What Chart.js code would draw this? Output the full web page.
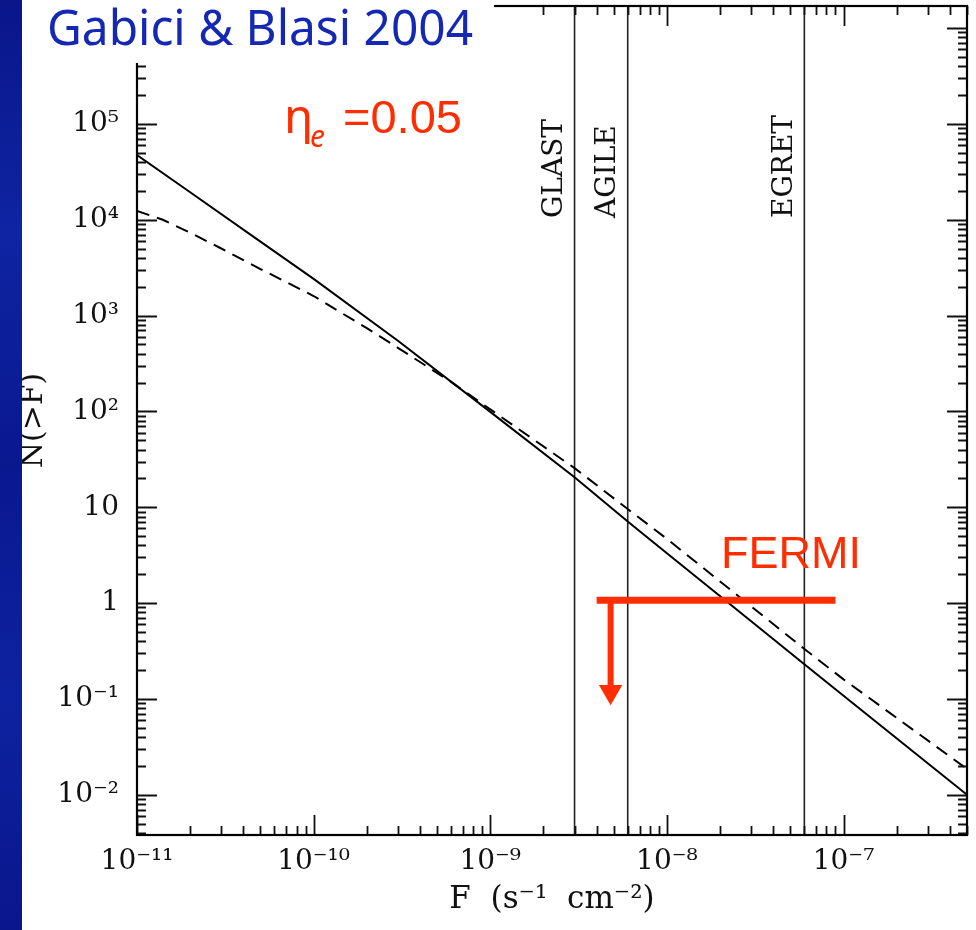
<!DOCTYPE html>
<html><head><meta charset="utf-8">
<script src="https://cdn.jsdelivr.net/npm/chart.js@4.4.1/dist/chart.umd.min.js"></script>
<style>
html,body{margin:0;padding:0;background:#fff;}
#wrap{position:relative;width:976px;height:930px;overflow:hidden;background:#fff;}
#strip{position:absolute;left:0;top:0;width:22px;height:930px;background:linear-gradient(180deg,#0a168a 0%,#0e24a2 25%,#0a1890 50%,#0d22a0 75%,#0a168c 100%);}
canvas{position:absolute;left:0;top:0;}
</style></head>
<body><div id="wrap"><canvas id="c" width="976" height="930" style="width:976px;height:930px"></canvas><div id="strip"></div></div>
<script>
// ---- data ----
const solidF = [1e-11, 2e-11, 5e-11, 1e-10, 3e-10, 1e-9, 3e-9, 6e-9, 1e-8, 3e-8, 6e-8, 1e-7, 5e-7];
const solidN = [47400, 19360, 5920, 2415, 547, 98.9, 20.6, 7.10, 3.31, 0.647, 0.230, 0.108, 0.0100];
const dashedF = [1e-11, 1.4e-11, 2e-11, 3e-11, 5e-11, 1e-10, 2e-10, 3e-10, 6e-10, 1e-9, 3e-9, 6e-9, 1e-8, 6e-8, 1e-7, 5e-7];
const dashedN = [12360, 10000, 7330, 5010, 3060, 1600, 738, 461, 203, 105, 25.6, 9.57, 4.68, 0.332, 0.160, 0.0186];
const instrumentNames = ['GLAST', 'AGILE', 'EGRET'];
const instrumentF = [3e-9, 6e-9, 6e-8];
const fermiF = [4e-9, 9e-8];
const fermiN = 1.07;
const arrowF = 4.8e-9;
const arrowN = [1.07, 0.14];
const arrowHeadN = 0.119;
const xRange = [1e-11, 5e-7];
const yRange = [0.0038, 1.7e6];
const xMajorTicks = [1e-11, 1e-10, 1e-9, 1e-8, 1e-7];
const xTickLabels = ['10⁻¹¹', '10⁻¹⁰', '10⁻⁹', '10⁻⁸', '10⁻⁷'];
const yMajorTicks = [1e-2, 1e-1, 1, 10, 1e2, 1e3, 1e4, 1e5, 1e6];
const yTickLabels = ['10⁻²', '10⁻¹', '1', '10', '10²', '10³', '10⁴', '10⁵', ''];

const RED = '#ff2d00';
const BLUE = '#1428b4';
const SERIF = "'DejaVu Serif', 'Liberation Serif', serif";

function buildTicks(majors, lo, hi) {
  const out = [];
  const kLo = Math.floor(Math.log10(lo)), kHi = Math.ceil(Math.log10(hi));
  for (let k = kLo; k <= kHi; k++) {
    for (let m = 1; m <= 9; m++) {
      const v = m * Math.pow(10, k);
      if (v >= lo * 0.999 && v <= hi * 1.001) out.push({ value: v, major: m === 1 });
    }
  }
  return out;
}
function labelFor(v, majors, labels) {
  for (let i = 0; i < majors.length; i++) {
    if (Math.abs(Math.log10(v) - Math.log10(majors[i])) < 1e-6) return labels[i];
  }
  return '';
}
const pts = (fs, ns) => fs.map((f, i) => ({ x: f, y: ns[i] }));

const datasets = [];
datasets.push({ data: [{ x: fermiF[0], y: fermiN }, { x: fermiF[1], y: fermiN }], borderColor: RED, borderWidth: 7, pointRadius: 0, order: 0 });
datasets.push({ data: [{ x: arrowF, y: arrowN[0] }, { x: arrowF, y: arrowN[1] }], borderColor: RED, borderWidth: 6, pointRadius: 0, order: 0 });
datasets.push({ data: [{ x: arrowF, y: arrowHeadN }], showLine: false, pointStyle: 'triangle', rotation: 180, pointRadius: 13.5, backgroundColor: RED, borderColor: RED, borderWidth: 0, order: 0 });
datasets.push({ data: pts(solidF, solidN), borderColor: '#000', borderWidth: 2, pointRadius: 0, tension: 0, order: 1 });
datasets.push({ data: pts(dashedF, dashedN), borderColor: '#000', borderWidth: 2, borderDash: [13, 8], pointRadius: 0, tension: 0, order: 1 });
instrumentF.forEach(f => datasets.push({ data: [{ x: f, y: yRange[0] }, { x: f, y: yRange[1] }], borderColor: '#222', borderWidth: 1.6, pointRadius: 0, order: 2 }));

const decor = {
  id: 'decor',
  afterDraw(chart) {
    const ctx = chart.ctx, a = chart.chartArea;
    const xs = chart.scales.x, ys = chart.scales.y;
    ctx.save();
    // inward tick marks on all four sides
    ctx.strokeStyle = '#111';
    ctx.lineWidth = 1.8;
    xs.ticks.forEach(t => {
      const px = Math.round(xs.getPixelForValue(t.value)) + 0.5;
      const len = t.major ? 20 : 9;
      ctx.beginPath();
      ctx.moveTo(px, a.bottom); ctx.lineTo(px, a.bottom - len);
      ctx.moveTo(px, a.top); ctx.lineTo(px, a.top + len);
      ctx.stroke();
    });
    ys.ticks.forEach(t => {
      const py = Math.round(ys.getPixelForValue(t.value)) + 0.5;
      const len = t.major ? 20 : 9;
      ctx.beginPath();
      ctx.moveTo(a.left, py); ctx.lineTo(a.left + len, py);
      ctx.moveTo(a.right, py); ctx.lineTo(a.right - len, py);
      ctx.stroke();
    });
    // frame
    ctx.lineWidth = 2.2;
    ctx.strokeStyle = '#000';
    ctx.strokeRect(a.left, a.top, a.right - a.left, a.bottom - a.top);

    // instrument labels (rotated)
    ctx.fillStyle = '#111';
    ctx.font = "28px " + SERIF;
    ctx.textBaseline = 'alphabetic';
    ctx.textAlign = 'left';
    instrumentNames.forEach((name, i) => {
      const px = xs.getPixelForValue(instrumentF[i]);
      ctx.save();
      ctx.translate(px - 12.5, 218);
      ctx.rotate(-Math.PI / 2);
      ctx.fillText(name, 0, 0);
      ctx.restore();
    });

    // title box covering top-left
    ctx.fillStyle = '#fff';
    ctx.fillRect(0, 0, 494, 63);
    // title
    ctx.fillStyle = BLUE;
    ctx.font = "49px 'Noto Sans', 'Open Sans', sans-serif";
    const title = 'Gabici & Blasi 2004';
    const w = ctx.measureText(title).width;
    ctx.save();
    ctx.translate(47, 45);
    ctx.scale(426 / w, 1);
    ctx.fillText(title, 0, 0);
    ctx.restore();

    // eta_e = 0.05
    ctx.fillStyle = RED;
    ctx.font = "48px 'Noto Sans', sans-serif";
    ctx.fillText('η', 284, 133);
    ctx.font = "italic 30px 'Noto Sans', sans-serif";
    ctx.fillText('e', 310, 147);
    ctx.font = "47px 'Liberation Sans', Arial, sans-serif";
    ctx.fillText('=0.05', 343, 133);

    // FERMI
    ctx.font = "45px 'Liberation Sans', Arial, sans-serif";
    ctx.fillText('FERMI', 721, 568);
    ctx.restore();
  }
};

new Chart(document.getElementById('c'), {
  type: 'line',
  data: { datasets },
  options: {
    responsive: false,
    animation: false,
    layout: { autoPadding: false, padding: { left: 0, right: 9, top: 6, bottom: 0 } },
    plugins: { legend: { display: false }, tooltip: { enabled: false } },
    scales: {
      x: {
        type: 'logarithmic', position: 'bottom', min: xRange[0], max: xRange[1],
        afterBuildTicks: s => { s.ticks = buildTicks(xMajorTicks, xRange[0], xRange[1]); },
        afterFit: s => { s.height = 95; s.paddingLeft = 0; s.paddingRight = 0; },
        grid: { display: false, drawTicks: false }, border: { display: false },
        ticks: { autoSkip: false, maxRotation: 0, minRotation: 0, padding: 10, color: '#111',
          font: { family: SERIF, size: 28 },
          callback: v => labelFor(v, xMajorTicks, xTickLabels) },
        title: { display: true, text: 'F  (s⁻¹  cm⁻²)', color: '#111', font: { family: SERIF, size: 31 }, padding: { top: 0, bottom: 11 } }
      },
      y: {
        type: 'logarithmic', position: 'left', min: yRange[0], max: yRange[1],
        afterBuildTicks: s => { s.ticks = buildTicks(yMajorTicks, yRange[0], yRange[1]); },
        afterFit: s => { s.width = 137; s.paddingTop = 0; s.paddingBottom = 0; },
        grid: { display: false, drawTicks: false }, border: { display: false },
        ticks: { autoSkip: false, padding: 18, color: '#111',
          font: { family: SERIF, size: 28 },
          callback: v => labelFor(v, yMajorTicks, yTickLabels) },
        title: { display: true, text: 'N(>F)', color: '#111', font: { family: SERIF, size: 30 }, padding: { top: 16, bottom: 0 } }
      }
    }
  },
  plugins: [decor]
});
</script>
</body></html>
